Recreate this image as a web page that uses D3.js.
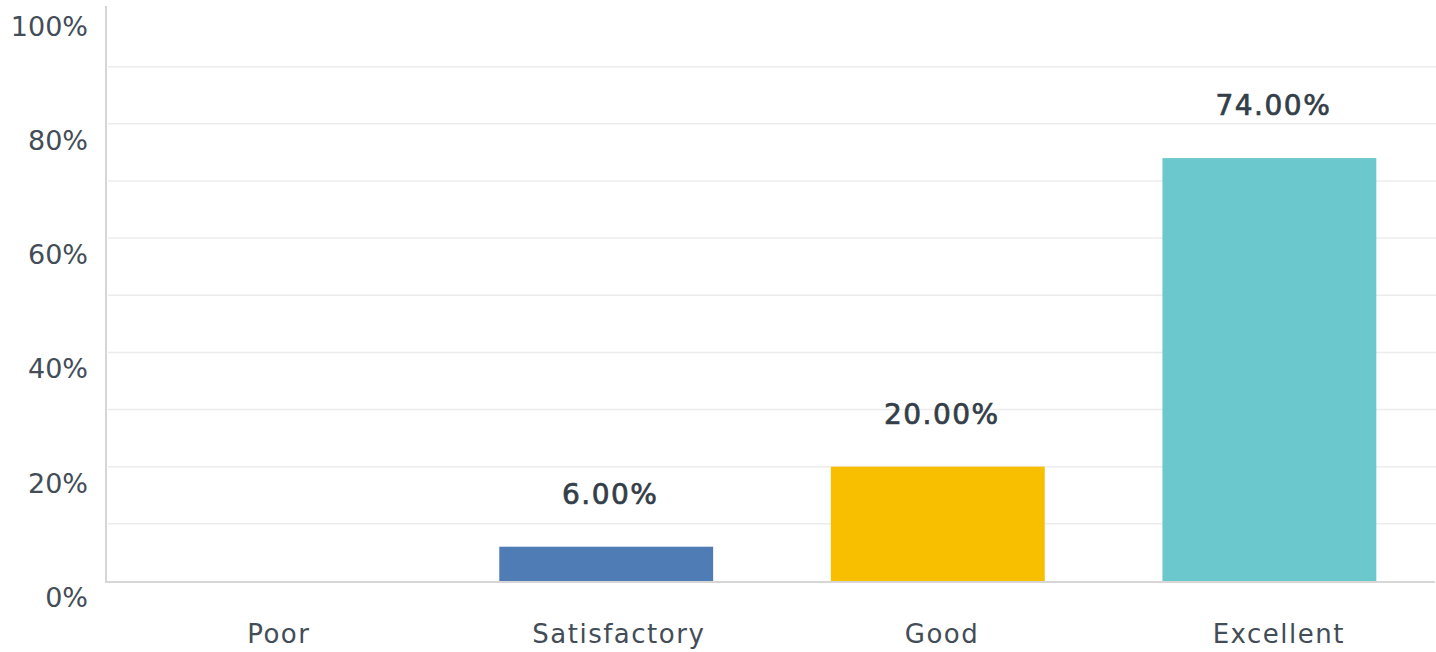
<!DOCTYPE html>
<html lang="en">
<head>
    <meta charset="UTF-8">
    <title>Ratings</title>
    <script src="https://d3js.org/d3.v7.min.js"></script>
    <style>
        body { margin: 0; background: #fff; }
        .tick-label {
            font-family: "DejaVu Sans", sans-serif;
            font-size: 27px;
            fill: #434d57;
        }
        .cat-label {
            font-family: "DejaVu Sans", sans-serif;
            font-size: 26px;
            letter-spacing: 1.5px;
            fill: #434d57;
            text-anchor: middle;
        }
        .value-label {
            font-family: "DejaVu Sans", sans-serif;
            font-size: 28px;
            letter-spacing: 1.5px;
            fill: #333e48;
            stroke: #333e48;
            stroke-width: 0.7px;
            text-anchor: middle;
        }
    </style>
</head>
<body>
    <svg width="1436" height="652"></svg>
    <script>
        const categories = ["Poor", "Satisfactory", "Good", "Excellent"];
        const values = [0, 6, 20, 74];
        const colors = ["#507cb6", "#507cb6", "#f8be00", "#6bc8cd"];
        const yTicks = [0, 20, 40, 60, 80, 100];
        const gridValues = [10, 20, 30, 40, 50, 60, 70, 80, 90];

        const svg = d3.select("svg");
        const plotLeft = 108, plotRight = 1436, plotTop = 9.5, plotBottom = 581;

        const x = d3.scaleBand()
            .domain(categories)
            .range([plotLeft, plotRight])
            .paddingInner(0.355)
            .paddingOuter(0.18);

        const y = d3.scaleLinear()
            .domain([0, 100])
            .range([plotBottom, plotTop]);

        // gridlines
        svg.append("g")
            .selectAll("line")
            .data(gridValues)
            .enter()
            .append("line")
            .attr("x1", plotLeft)
            .attr("x2", plotRight)
            .attr("y1", d => y(d))
            .attr("y2", d => y(d))
            .attr("stroke", "#ececec")
            .attr("stroke-width", 1.5);

        // bars
        svg.selectAll(".bar")
            .data(categories)
            .enter()
            .append("rect")
            .attr("class", "bar")
            .attr("x", d => x(d))
            .attr("y", (d, i) => y(values[i]))
            .attr("width", x.bandwidth())
            .attr("height", (d, i) => y(0) - y(values[i]))
            .attr("fill", (d, i) => colors[i]);

        // axis lines
        svg.append("line")
            .attr("x1", plotLeft - 2).attr("x2", plotLeft - 2)
            .attr("y1", 6).attr("y2", plotBottom + 1)
            .attr("stroke", "#d6d6d6").attr("stroke-width", 2);
        svg.append("line")
            .attr("x1", plotLeft - 3).attr("x2", plotRight - 1)
            .attr("y1", plotBottom + 1).attr("y2", plotBottom + 1)
            .attr("stroke", "#d6d6d6").attr("stroke-width", 2);

        // y tick labels (sit below their gridline)
        svg.selectAll(".tick-label")
            .data(yTicks)
            .enter()
            .append("text")
            .attr("class", "tick-label")
            .attr("x", 88)
            .attr("y", d => y(d) + 26)
            .attr("text-anchor", "end")
            .text(d => d + "%");

        // category labels (slightly right of centre, as in the original)
        svg.selectAll(".cat-label")
            .data(categories)
            .enter()
            .append("text")
            .attr("class", "cat-label")
            .attr("x", d => x(d) + x.bandwidth() / 2 + d.length * 1.05)
            .attr("y", 643)
            .text(d => d);

        // value labels
        svg.selectAll(".value-label")
            .data(categories.filter((d, i) => values[i] > 0))
            .enter()
            .append("text")
            .attr("class", "value-label")
            .attr("x", d => x(d) + x.bandwidth() / 2 + 4)
            .attr("y", d => y(values[categories.indexOf(d)]) - 43)
            .text(d => values[categories.indexOf(d)].toFixed(2) + "%");
    </script>
</body>
</html>
